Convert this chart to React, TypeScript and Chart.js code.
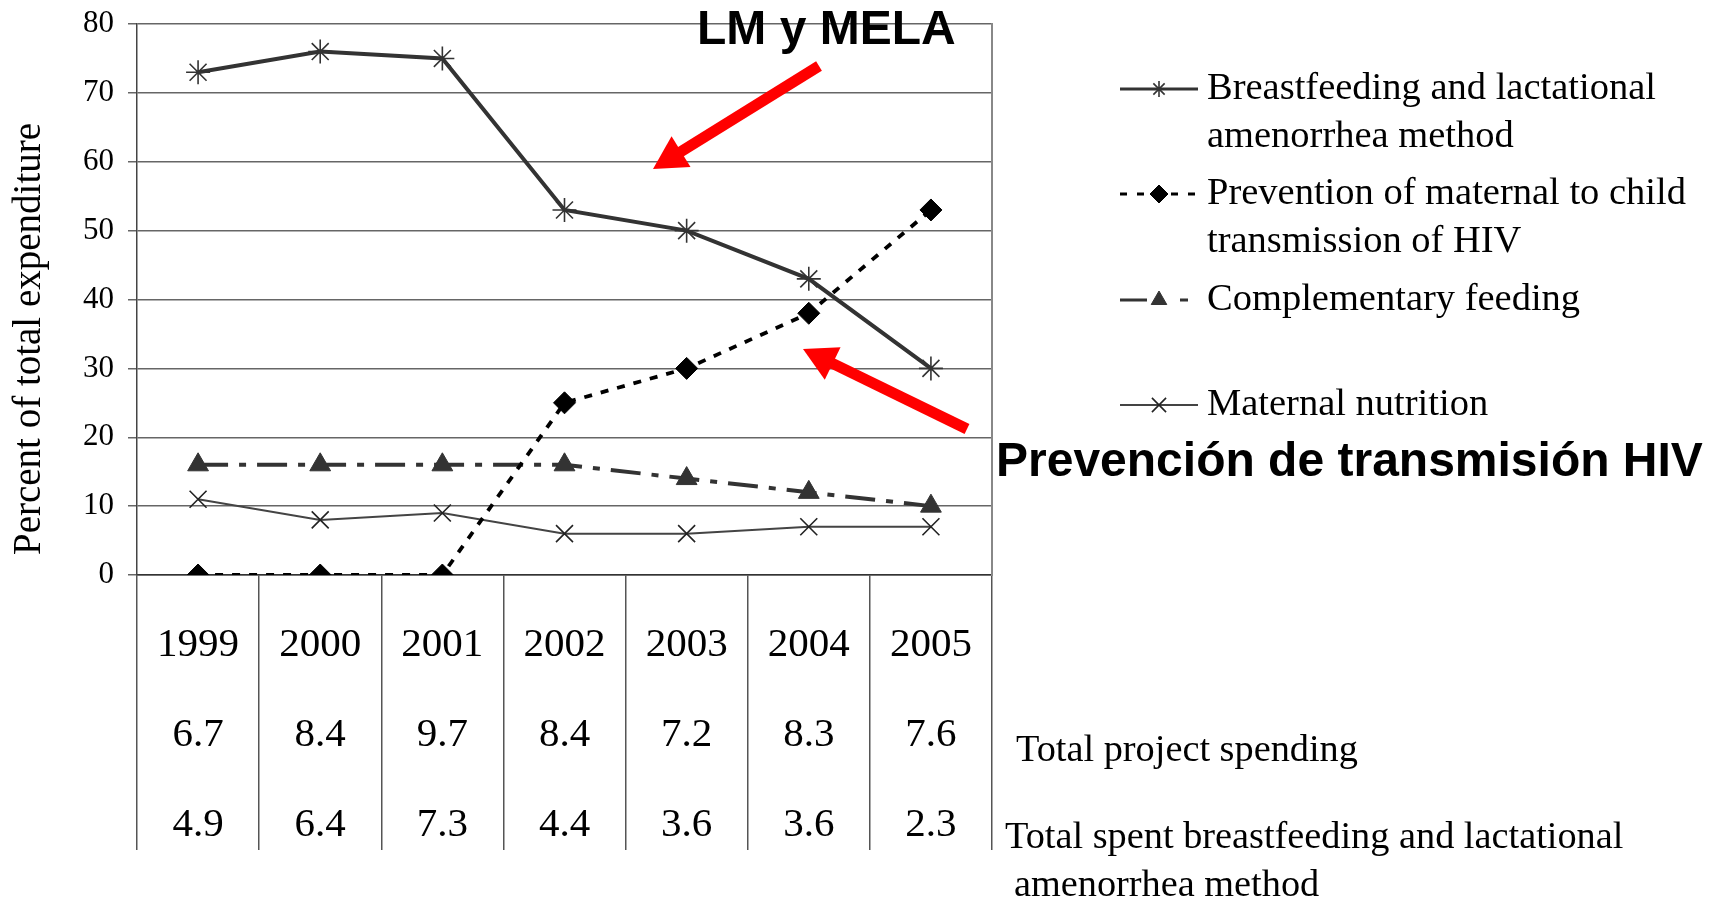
import { useEffect, useRef } from 'react';
import { Chart, registerables } from 'chart.js';
import { drawPoint } from 'chart.js/helpers';

Chart.register(...registerables);

const years = ['1999', '2000', '2001', '2002', '2003', '2004', '2005'];
const totalProjectSpending = ['6.7', '8.4', '9.7', '8.4', '7.2', '8.3', '7.6'];
const totalSpentBreastfeeding = ['4.9', '6.4', '7.3', '4.4', '3.6', '3.6', '2.3'];

const breastfeeding = [73, 76, 75, 53, 50, 43, 30];
const pmtct = [0, 0, 0, 25, 30, 38, 53];
const complementary = [16, 16, 16, 16, 14, 12, 10];
const maternal = [11, 8, 9, 6, 6, 7, 7];

const yMin = 0;
const yMax = 80;
const yStep = 10;

const legendTexts = [
  ['Breastfeeding and lactational', 'amenorrhea method'],
  ['Prevention of maternal to child', 'transmission of HIV'],
  ['Complementary feeding'],
  ['Maternal nutrition'],
];
const rowLabel1 = ['Total project spending'];
const rowLabel2 = ['Total spent breastfeeding and lactational', 'amenorrhea method'];
const yTitle = 'Percent of total expenditure';
const note1 = 'LM y MELA';
const note2 = 'Prevención de transmisión HIV';

const SERIF = '"Liberation Serif", "Times New Roman", serif';
const SANS = '"Liberation Sans", Arial, sans-serif';

function drawArrow(ctx: CanvasRenderingContext2D, x0: number, y0: number, x1: number, y1: number, w: number, hl: number, hw: number) {
  const ang = Math.atan2(y1 - y0, x1 - x0);
  const bx = x1 - Math.cos(ang) * hl;
  const by = y1 - Math.sin(ang) * hl;
  ctx.save();
  ctx.strokeStyle = '#ff0000';
  ctx.fillStyle = '#ff0000';
  ctx.lineWidth = w;
  ctx.lineCap = 'butt';
  ctx.beginPath();
  ctx.moveTo(x0, y0);
  ctx.lineTo(bx + Math.cos(ang) * 2, by + Math.sin(ang) * 2);
  ctx.stroke();
  const px = -Math.sin(ang);
  const py = Math.cos(ang);
  ctx.beginPath();
  ctx.moveTo(x1, y1);
  ctx.lineTo(bx + px * hw / 2, by + py * hw / 2);
  ctx.lineTo(bx - px * hw / 2, by - py * hw / 2);
  ctx.closePath();
  ctx.fill();
  ctx.restore();
}

const extrasPlugin = {
  id: 'extras',
  afterDraw(chart: any) {
    const ctx: CanvasRenderingContext2D = chart.ctx;
    ctx.save();

    // Y axis title
    ctx.save();
    ctx.translate(30, 339);
    ctx.rotate(-Math.PI / 2);
    ctx.font = `39px ${SERIF}`;
    ctx.fillStyle = '#000';
    ctx.textAlign = 'center';
    ctx.textBaseline = 'middle';
    ctx.fillText(yTitle, 0, 0);
    ctx.restore();

    // Legend
    const legendY = [89, 194, 300, 405];
    const lx0 = 1120;
    const lx1 = 1198;
    const lxm = 1159;
    const textX = 1207;
    chart.data.datasets.forEach((ds: any, i: number) => {
      const y = legendY[i];
      ctx.save();
      ctx.strokeStyle = ds.borderColor;
      ctx.lineWidth = i === 3 ? 1.8 : 3;
      ctx.setLineDash(ds.legendDash || []);
      ctx.beginPath();
      ctx.moveTo(lx0, y);
      ctx.lineTo(lx1, y);
      ctx.stroke();
      ctx.setLineDash([]);
      ctx.fillStyle = ds.pointBackgroundColor;
      ctx.strokeStyle = ds.pointBorderColor;
      ctx.lineWidth = ds.pointBorderWidth;
      drawPoint(ctx, { pointStyle: ds.pointStyle, radius: ds.legendRadius, rotation: 0, borderWidth: ds.pointBorderWidth }, lxm, y);
      ctx.restore();
      ctx.font = `38.5px ${SERIF}`;
      ctx.fillStyle = '#000';
      ctx.textAlign = 'left';
      ctx.textBaseline = 'middle';
      legendTexts[i].forEach((t, j) => ctx.fillText(t, textX, y + j * 48));
    });

    // Row labels of the table
    ctx.font = `38.3px ${SERIF}`;
    ctx.fillStyle = '#000';
    ctx.textAlign = 'left';
    ctx.textBaseline = 'middle';
    ctx.fillText(rowLabel1[0], 1016, 751);
    ctx.fillText(rowLabel2[0], 1005, 838);
    ctx.fillText(rowLabel2[1], 1014, 886);

    // Annotations
    ctx.font = `bold 48px ${SANS}`;
    ctx.textBaseline = 'alphabetic';
    ctx.fillText(note1, 697, 44);
    ctx.fillText(note2, 996, 476);

    drawArrow(ctx, 819, 66, 653, 169, 11, 33, 36);
    drawArrow(ctx, 967, 429, 803, 349, 11, 33, 36);

    ctx.restore();
  },
};

export default function App() {
  const ref = useRef<HTMLCanvasElement>(null);
  useEffect(() => {
    const canvas = ref.current;
    if (!canvas) return;
    const chart = new Chart(canvas, {
      type: 'line',
      data: {
        labels: years,
        datasets: [
          {
            label: legendTexts[0].join(' '),
            data: breastfeeding,
            borderColor: '#333333',
            borderWidth: 4,
            pointStyle: 'star',
            pointRadius: 12,
            pointBorderWidth: 1.6,
            pointBackgroundColor: '#333333',
            pointBorderColor: '#333333',
            tension: 0,
            fill: false,
            legendDash: [],
            legendRadius: 8,
          } as any,
          {
            label: legendTexts[1].join(' '),
            data: pmtct,
            borderColor: '#000000',
            borderWidth: 3.8,
            borderDash: [8, 9],
            pointStyle: 'rectRot',
            pointRadius: 11,
            pointBorderWidth: 1,
            pointBackgroundColor: '#000000',
            pointBorderColor: '#000000',
            tension: 0,
            fill: false,
            legendDash: [7, 10],
            legendRadius: 9,
          } as any,
          {
            label: legendTexts[2][0],
            data: complementary,
            borderColor: '#333333',
            borderWidth: 4,
            borderDash: [30, 11, 7, 11],
            pointStyle: 'triangle',
            pointRadius: 12,
            pointBorderWidth: 1,
            pointBackgroundColor: '#333333',
            pointBorderColor: '#333333',
            tension: 0,
            fill: false,
            legendDash: [27, 33, 8, 100],
            legendRadius: 9,
          } as any,
          {
            label: legendTexts[3][0],
            data: maternal,
            borderColor: '#444444',
            borderWidth: 2,
            pointStyle: 'crossRot',
            pointRadius: 12,
            pointBorderWidth: 1.6,
            pointBackgroundColor: '#222222',
            pointBorderColor: '#222222',
            tension: 0,
            fill: false,
            legendDash: [],
            legendRadius: 10,
          } as any,
        ],
      },
      options: {
        animation: false,
        responsive: false,
        devicePixelRatio: 1,
        layout: { padding: { left: 0, top: 24, right: 721, bottom: 0 } },
        plugins: {
          legend: { display: false },
          tooltip: { enabled: false },
          title: { display: false },
        },
        scales: {
          x: {
            type: 'category',
            offset: true,
            grid: {
              offset: true,
              drawOnChartArea: false,
              drawTicks: true,
              tickLength: 275,
              color: '#555555',
              lineWidth: 1.5,
            },
            border: { display: true, color: '#333333', width: 1.5 },
            ticks: {
              color: '#000000',
              font: { family: SERIF, size: 41, lineHeight: 2.2 },
              padding: -250,
              maxRotation: 0,
              minRotation: 0,
              autoSkip: false,
              callback: (_v: any, i: number) => [years[i], totalProjectSpending[i], totalSpentBreastfeeding[i]],
            },
            afterFit: (s: any) => {
              s.height = 328;
            },
          },
          y: {
            type: 'linear',
            position: 'left',
            min: yMin,
            max: yMax,
            ticks: {
              stepSize: yStep,
              color: '#000000',
              font: { family: SERIF, size: 31, lineHeight: 0.4 },
              padding: 14,
            },
            grid: { color: '#666666', lineWidth: 1.5, tickLength: 9, drawTicks: true },
            border: { display: true, color: '#444444', width: 1.5 },
            afterFit: (s: any) => {
              s.width = 137;
            },
          },
          y2: {
            type: 'linear',
            position: 'right',
            display: true,
            min: yMin,
            max: yMax,
            ticks: { display: false },
            grid: { drawOnChartArea: false, drawTicks: false },
            border: { display: true, color: '#888888', width: 2 },
            afterFit: (s: any) => {
              s.width = 0;
            },
          },
        },
      } as any,
      plugins: [extrasPlugin],
    });
    return () => chart.destroy();
  }, []);

  return (
    <div style={{ position: 'fixed', left: 0, top: 0, width: 1713, height: 903, background: '#ffffff' }}>
      <canvas ref={ref} width={1713} height={903} style={{ width: 1713, height: 903, display: 'block' }} />
    </div>
  );
}
